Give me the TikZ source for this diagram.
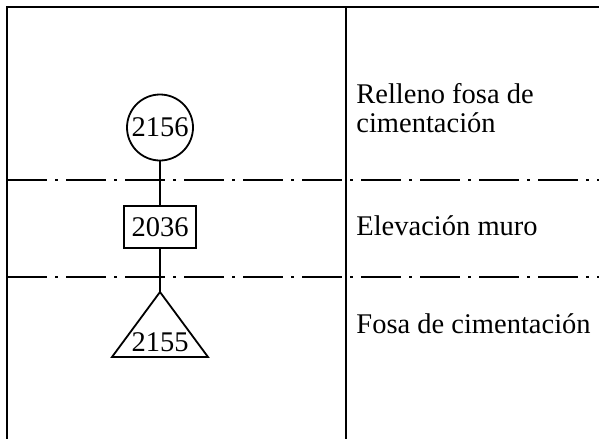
\documentclass[tikz,border=0pt]{standalone}
\usepackage{fontspec}
\setmainfont{Liberation Serif}
\begin{document}
\begin{tikzpicture}[x=0.5pt,y=-0.5pt,
  frame/.style={line width=0.8pt},
  sep/.style={line width=0.8pt, dash pattern=on 20pt off 4pt on 1.5pt off 4pt},
  lbl/.style={font=\fontsize{14.25}{14.5}\selectfont, inner sep=0pt},
  shp/.style={draw, line width=0.9pt, inner sep=0pt, font=\fontsize{14.25}{14.5}\selectfont},
  conn/.style={line width=0.9pt}]
\useasboundingbox (0,0) rectangle (599,439);
% frame
\coordinate (tl) at (7,7);
\coordinate (tr) at (599,7);
\coordinate (bl) at (7,439);
\coordinate (mt) at (346,7);
\coordinate (mb) at (346,439);
\draw[frame] (tr) -- (tl) -- (bl);
\draw[frame] (mt) -- (mb);
% separators
\coordinate (d1l) at (7,180);
\coordinate (d1r) at (599,180);
\coordinate (d2l) at (7,277);
\coordinate (d2r) at (599,277);
\draw[sep] (d1l) -- (d1r);
\draw[sep] (d2l) -- (d2r);
% units
\node[shp, circle, minimum size=33pt] (u2156) at (160,127.5) {2156};
\node[shp, rectangle, minimum width=36pt, minimum height=21pt] (u2036) at (160,227) {2036};
\coordinate (apex) at (160,292);
\coordinate (bleft) at (112,357);
\coordinate (bright) at (208,357);
\draw[line width=0.9pt, line join=miter] (apex) -- (bleft) -- (bright) -- cycle;
\node[lbl, anchor=base] (u2155) at (160,351) {2155};
% connectors
\draw[conn] (u2156.south) -- (u2036.north);
\draw[conn] (u2036.south) -- (apex);
% labels
\node[lbl, anchor=north west, align=left] (l1) at (356,83.5) {Relleno fosa de\\cimentación};
\node[lbl, anchor=base west] (l2) at (356,235) {Elevación muro};
\node[lbl, anchor=base west] (l3) at (356,333) {Fosa de cimentación};
\end{tikzpicture}
\end{document}
